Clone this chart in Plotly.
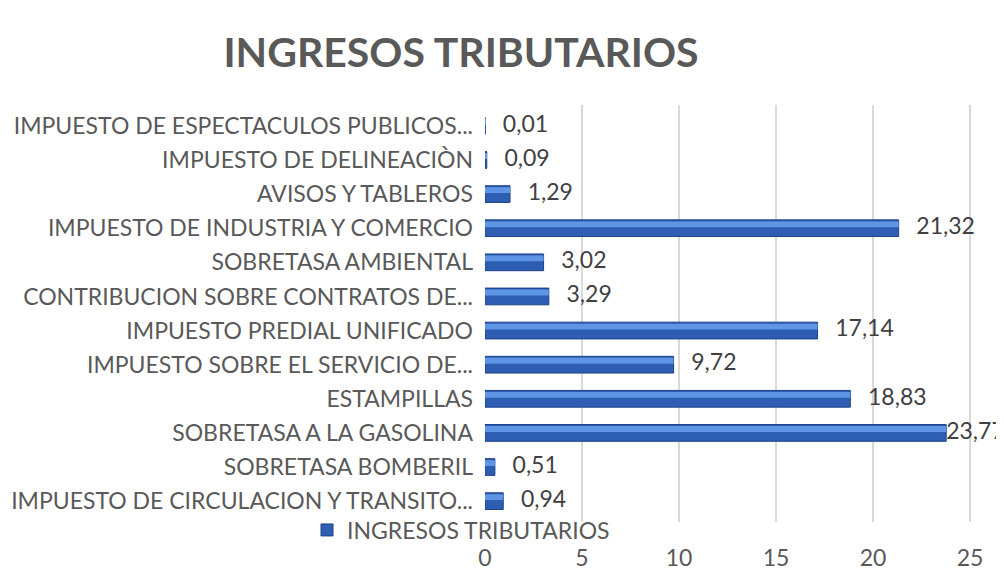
import plotly.graph_objects as go

categories = [
    "IMPUESTO DE ESPECTACULOS PUBLICOS...",
    "IMPUESTO DE DELINEACIÒN",
    "AVISOS Y TABLEROS",
    "IMPUESTO DE INDUSTRIA Y COMERCIO",
    "SOBRETASA AMBIENTAL",
    "CONTRIBUCION SOBRE CONTRATOS DE...",
    "IMPUESTO PREDIAL UNIFICADO",
    "IMPUESTO SOBRE EL SERVICIO DE...",
    "ESTAMPILLAS",
    "SOBRETASA A LA GASOLINA",
    "SOBRETASA BOMBERIL",
    "IMPUESTO DE CIRCULACION Y TRANSITO...",
]
values = [0.01, 0.09, 1.29, 21.32, 3.02, 3.29, 17.14, 9.72, 18.83, 23.77, 0.51, 0.94]
series_name = "INGRESOS TRIBUTARIOS"
tick_vals = [0, 5, 10, 15, 20, 25]

FONT = "Lato"
GRAY = "#595959"
X_MAX = 26.75

# the page body has an 8px margin, so the figure is offset by 8px; compensate
OFF = 8
W, H = 1004 - OFF, 570 - OFF

labels = [f"{v:.2f}".replace(".", ",") for v in values]
# labels that would run off the right edge sit right at the bar end (as in Excel)
label_text = [("" if v > 0.85 * X_MAX else "   ") + t for v, t in zip(values, labels)]

fig = go.Figure()
fig.add_trace(go.Bar(
    x=values, y=categories, orientation="h", name=series_name,
    width=0.49, marker=dict(color="#2D5EB4", line=dict(color="#1C4187", width=1)),
    showlegend=True, hoverinfo="skip",
))
fig.add_trace(go.Bar(
    x=values, y=categories, orientation="h", name=series_name,
    width=0.17, offset=-0.2,
    marker=dict(color="#5E95E4", line=dict(width=0)),
    showlegend=False, hoverinfo="skip",
))
fig.add_trace(go.Scatter(
    x=values, y=categories, mode="text", text=label_text,
    textposition="middle right", textfont=dict(family=FONT, size=23, color="#404040"),
    showlegend=False, hoverinfo="skip", cliponaxis=False,
))

fig.update_layout(
    width=W, height=H,
    paper_bgcolor="white", plot_bgcolor="white",
    barmode="overlay",
    margin=dict(l=485 - OFF, r=0, t=105 - OFF, b=(570 - 522), autoexpand=False),
    title=dict(text="<b>INGRESOS TRIBUTARIOS</b>", x=(461 - OFF) / W, xanchor="center",
               y=1 - (53 - OFF) / H, yanchor="middle",
               font=dict(family=FONT, size=41, color=GRAY)),
    xaxis=dict(range=[0, X_MAX], tickvals=tick_vals, showgrid=True,
               gridcolor="#D9D9D9", gridwidth=2, zeroline=False, showline=False,
               tickfont=dict(family=FONT, size=23, color=GRAY),
               ticklabelstandoff=20, automargin=False),
    yaxis=dict(categoryorder="array", categoryarray=categories, autorange="reversed",
               showgrid=False, zeroline=False, showline=False,
               tickfont=dict(family=FONT, size=23, color=GRAY),
               ticklabelstandoff=11, automargin=False),
    legend=dict(orientation="h", xref="container", yref="container",
                x=(461 - OFF) / W, xanchor="center", y=1 - (530 - OFF) / H, yanchor="middle",
                font=dict(family=FONT, size=23, color=GRAY), bgcolor="rgba(0,0,0,0)",
                itemwidth=30),
    showlegend=True,
)
fig.write_html("out.html")
